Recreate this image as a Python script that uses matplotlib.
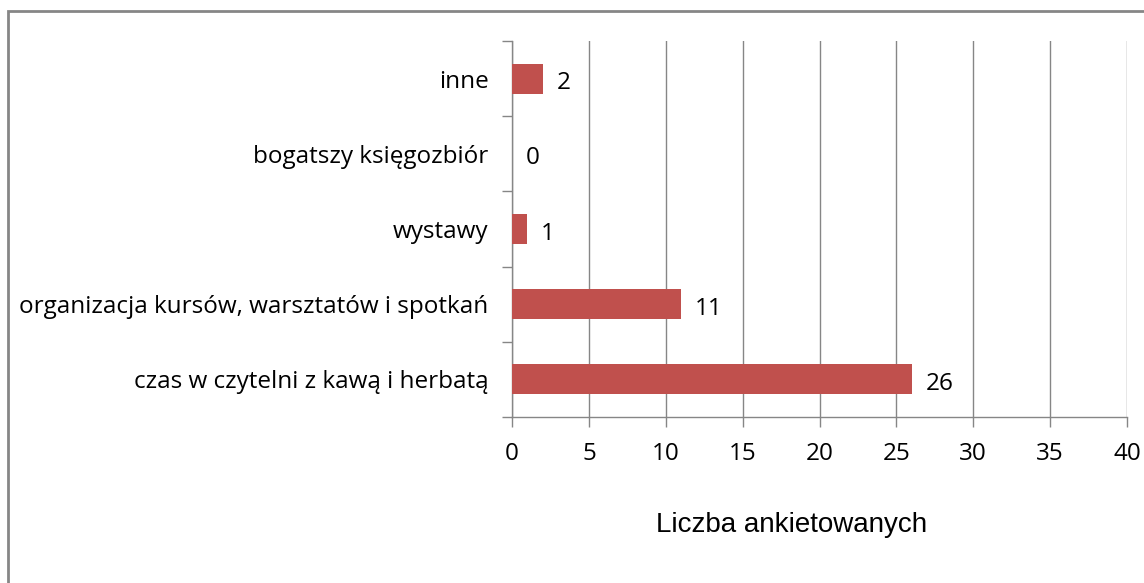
import matplotlib.pyplot as plt
import numpy as np
from matplotlib.patches import Rectangle

categories = ['czas w czytelni z kawą i herbatą',
              'organizacja kursów, warsztatów i spotkań',
              'wystawy',
              'bogatszy księgozbiór',
              'inne']
values = [26, 11, 1, 0, 2]
xticks = [0, 5, 10, 15, 20, 25, 30, 35, 40]

W, H = 1144, 583
fig = plt.figure(figsize=(W / 100, H / 100), dpi=100)
ax = fig.add_axes([512 / W, 1 - 417 / H, (1127 - 512) / W, (417 - 41) / H])

grey = '#868686'
fs = 17.5
y = np.arange(len(categories))
ax.barh(y, values, height=0.4, color='#C0504D', zorder=3)
for yi, v in zip(y, values):
    ax.text(v + 0.9, yi - 0.06, str(v), va='center', ha='left', fontsize=fs, family='Open Sans')

ax.set_xlim(0, 40)
ax.set_ylim(-0.5, len(categories) - 0.5)
ax.set_xticks(xticks)
ax.set_xticklabels([str(t) for t in xticks], fontsize=fs, family='Open Sans')
ax.set_yticks(y)
ax.set_yticklabels(categories, fontsize=fs, family='Open Sans')
ax.set_yticks(np.arange(-0.5, len(categories)), minor=True)
ax.tick_params(axis='y', which='major', length=0, pad=17)
ax.tick_params(axis='y', which='minor', length=7, color=grey, width=1)
ax.tick_params(axis='x', length=7, color=grey, width=1, pad=11)
ax.grid(axis='x', color=grey, linewidth=1, zorder=0)

for s in ['top', 'right']:
    ax.spines[s].set_visible(False)
for s in ['left', 'bottom']:
    ax.spines[s].set_color(grey)
    ax.spines[s].set_linewidth(1)

fig.text(792 / W, 1 - 525 / H, 'Liczba ankietowanych', ha='center', va='center',
         fontsize=20, family='Liberation Sans')

# outer chart frame (partly cut off at right and bottom)
fig.patches.append(Rectangle((8 / W, -0.1), 1.2, 1 - 11 / H + 0.1, transform=fig.transFigure,
                             fill=False, edgecolor=grey, linewidth=2))

fig.savefig('out.png', dpi=100)
